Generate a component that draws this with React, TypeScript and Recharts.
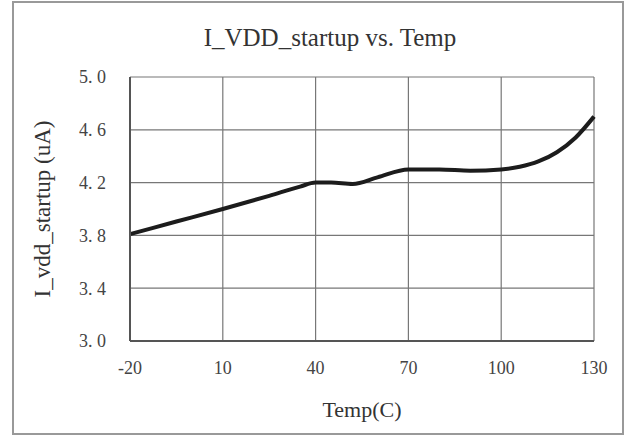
import { LineChart, Line, XAxis, YAxis, CartesianGrid, Label } from 'recharts';

const temps = [-20, -5, 10, 25, 35, 40, 45, 52, 60, 70, 80, 90, 100, 106, 112, 118, 124, 130];
const current = [3.81, 3.905, 4.0, 4.1, 4.17, 4.2, 4.2, 4.19, 4.24, 4.3, 4.3, 4.29, 4.3, 4.32, 4.36, 4.43, 4.54, 4.7];
const xTicks = [-20, 10, 40, 70, 100, 130];
const yTicks = [3.0, 3.4, 3.8, 4.2, 4.6, 5.0];

const data = temps.map((t, i) => ({ temp: t, value: current[i] }));

const font = '"Liberation Serif", "DejaVu Serif", serif';

export default function App() {
  return (
    <div style={{ position: 'absolute', left: 0, top: 0, width: 624, height: 436, background: '#fff' }}>
      <div
        style={{
          position: 'absolute',
          left: 12,
          top: 1,
          width: 608,
          height: 430,
          border: '2px solid #999',
        }}
      />
      <div
        style={{
          position: 'absolute',
          left: 0,
          top: 24,
          width: 660,
          textAlign: 'center',
          fontFamily: font,
          fontSize: 25,
          color: '#333',
        }}
      >
        I_VDD_startup vs. Temp
      </div>
      <LineChart
        width={624}
        height={436}
        data={data}
        margin={{ top: 77, right: 30, left: 0, bottom: 0 }}
        style={{ position: 'absolute', left: 0, top: 0 }}
      >
        <CartesianGrid stroke="#777" strokeWidth={1.2} />
        <XAxis
          type="number"
          dataKey="temp"
          domain={[-20, 130]}
          ticks={xTicks}
          height={95}
          tickSize={0}
          tickMargin={20}
          axisLine={{ stroke: '#555', strokeWidth: 2 }}
          tickLine={false}
          tick={{ fill: '#444', fontSize: 18, fontFamily: font }}
        >
          <Label
            value="Temp(C)"
            position="insideBottom"
            offset={19}
            style={{ fill: '#333', fontSize: 22, fontFamily: font }}
          />
        </XAxis>
        <YAxis
          type="number"
          domain={[3, 5]}
          ticks={yTicks}
          width={130}
          tickSize={0}
          tickMargin={24}
          axisLine={{ stroke: '#555', strokeWidth: 2 }}
          tickLine={false}
          tickFormatter={(v: number) => v.toFixed(1).replace('.', '. ')}
          tick={{ fill: '#444', fontSize: 18, fontFamily: font }}
        >
          <Label
            value="I_vdd_startup (uA)"
            angle={-90}
            position="insideLeft"
            offset={42}
            style={{ fill: '#333', fontSize: 23, fontFamily: font, textAnchor: 'middle' }}
          />
        </YAxis>
        <Line
          type="monotone"
          dataKey="value"
          stroke="#1c1c1c"
          strokeWidth={4}
          dot={false}
          isAnimationActive={false}
        />
      </LineChart>
    </div>
  );
}
